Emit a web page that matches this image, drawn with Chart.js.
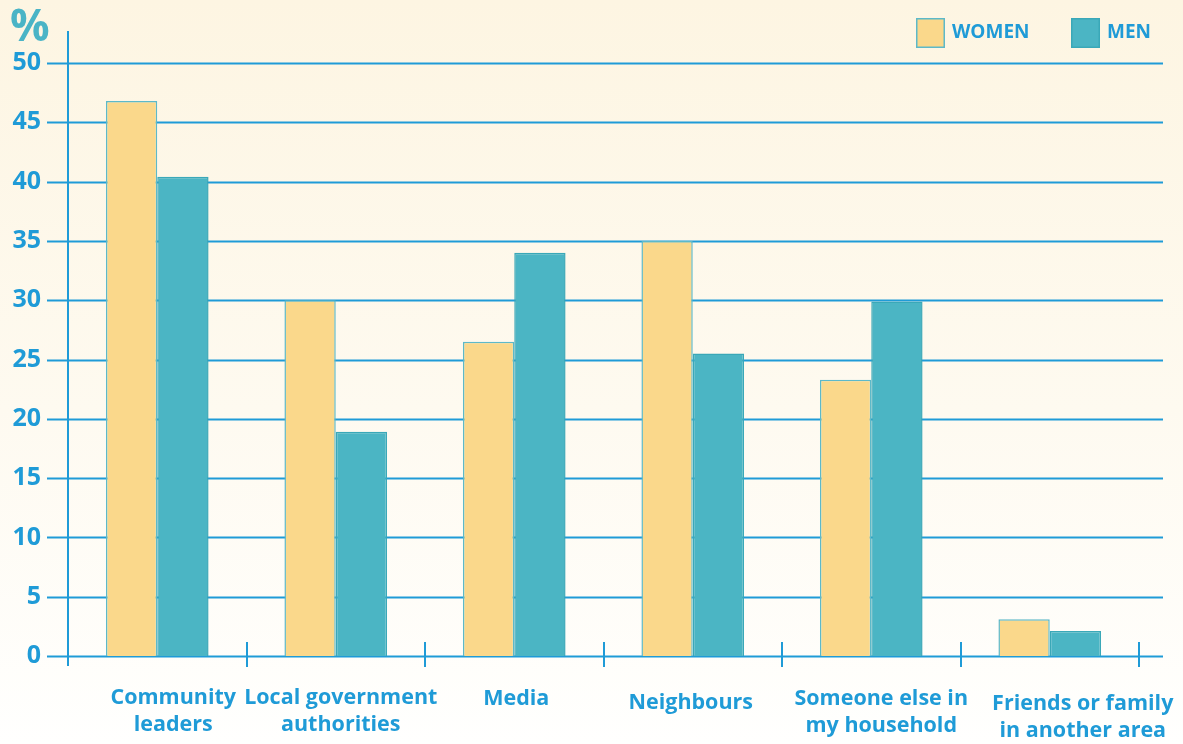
<!DOCTYPE html>
<html>
<head>
<meta charset="utf-8">
<script src="https://cdn.jsdelivr.net/npm/chart.js@4/dist/chart.umd.min.js"></script>
<style>
  html, body { margin: 0; padding: 0; background: #fffefb; }
  #wrap { width: 1183px; height: 744px; position: relative; }
</style>
</head>
<body>
<div id="wrap"><canvas id="c" width="1183" height="744"></canvas></div>
<script>
// Categories (multi-line labels) and the two series, in percent
const categories = [
  ['Community', 'leaders'],
  ['Local government', 'authorities'],
  ['Media'],
  ['Neighbours'],
  ['Someone else in', 'my household'],
  ['Friends or family', 'in another area']
];
const women = [46.8, 30.0, 26.5, 35.0, 23.3, 3.1];
const men   = [40.4, 18.9, 34.0, 25.5, 29.9, 2.1];
const seriesNames = ['WOMEN', 'MEN'];
const yTicks = [0, 5, 10, 15, 20, 25, 30, 35, 40, 45, 50];

const LINE = '#1f9bd7';
const FONT = '"Open Sans", "Noto Sans", sans-serif';
const womenFill = '#fad88b', womenBorder = '#5cb9c9';
const menFill = '#4bb5c4', menBorder = '#3aa8b8';

// Category captions sit a little off-centre under some groups
const captionShift = {
  dx: [16, 5, 2, -2, 10, 33],
  dy: [0, 0, 1, 5, 1, 6]
};

// Background wash, grid, axes, category ticks, captions, unit sign and legend
const decor = {
  id: 'decor',
  beforeDraw(chart) {
    const { ctx, width, height } = chart;
    const g = ctx.createLinearGradient(0, 0, 0, height);
    g.addColorStop(0, '#fdf5e2');
    g.addColorStop(0.55, '#fefaf0');
    g.addColorStop(1, '#fffffe');
    ctx.save();
    ctx.fillStyle = g;
    ctx.fillRect(0, 0, width, height);
    ctx.restore();
  },
  beforeDatasetsDraw(chart) {
    const { ctx, chartArea: a, scales: { x, y } } = chart;
    ctx.save();
    ctx.strokeStyle = LINE;
    ctx.lineWidth = 2;
    // horizontal grid lines, running past both ends of the plot
    yTicks.forEach(v => {
      const py = Math.round(y.getPixelForValue(v)) + 0.5;
      ctx.beginPath();
      ctx.moveTo(a.left - 21, py);
      ctx.lineTo(a.right + 24, py);
      ctx.stroke();
    });
    // vertical axis
    ctx.beginPath();
    ctx.moveTo(a.left, a.top - 32);
    ctx.lineTo(a.left, a.bottom + 10);
    ctx.stroke();
    // category separators on the baseline
    const step = x.getPixelForValue(1) - x.getPixelForValue(0);
    for (let i = 1; i <= categories.length; i++) {
      const px = Math.round(x.getPixelForValue(i) - step / 2);
      ctx.beginPath();
      ctx.moveTo(px, a.bottom - 14);
      ctx.lineTo(px, a.bottom + 11);
      ctx.stroke();
    }
    ctx.restore();
  },
  afterDraw(chart) {
    const { ctx, chartArea: a, scales: { x } } = chart;
    ctx.save();
    // category captions
    ctx.fillStyle = LINE;
    ctx.font = 'bold 21.5px ' + FONT;
    ctx.textAlign = 'center';
    ctx.textBaseline = 'alphabetic';
    categories.forEach((lines, i) => {
      const cx = x.getPixelForValue(i) + captionShift.dx[i];
      lines.forEach((t, k) => {
        ctx.fillText(t, cx, a.bottom + 48 + captionShift.dy[i] + k * 27);
      });
    });
    // unit sign above the value axis
    ctx.fillStyle = '#4ab4c6';
    ctx.font = 'bold 44px ' + FONT;
    ctx.textAlign = 'left';
    ctx.fillText('%', 10, 41);
    // legend
    const items = [
      { x: 916, fill: womenFill, border: womenBorder, label: seriesNames[0] },
      { x: 1071, fill: menFill, border: menBorder, label: seriesNames[1] }
    ];
    ctx.font = 'bold 19px ' + FONT;
    ctx.textBaseline = 'middle';
    items.forEach(it => {
      ctx.fillStyle = it.fill;
      ctx.fillRect(it.x, 18, 29, 30);
      ctx.strokeStyle = it.border;
      ctx.lineWidth = 1.5;
      ctx.strokeRect(it.x + 0.75, 18.75, 27.5, 28.5);
      ctx.fillStyle = LINE;
      ctx.fillText(it.label, it.x + 36, 33);
    });
    ctx.restore();
  }
};

new Chart(document.getElementById('c'), {
  type: 'bar',
  data: {
    labels: categories,
    datasets: [
      { label: seriesNames[0], data: women, backgroundColor: womenFill, borderColor: womenBorder, borderWidth: 1.5 },
      { label: seriesNames[1], data: men, backgroundColor: menFill, borderColor: menBorder, borderWidth: 1.5 }
    ]
  },
  options: {
    responsive: false,
    animation: false,
    layout: { padding: { top: 63, right: 44, left: 0, bottom: 0 } },
    datasets: { bar: { categoryPercentage: 0.575, barPercentage: 1.0 } },
    plugins: { legend: { display: false }, tooltip: { enabled: false } },
    scales: {
      x: {
        grid: { display: false, drawTicks: false },
        border: { display: false },
        ticks: { display: false },
        afterFit(s) { s.height = 88; }
      },
      y: {
        min: 0,
        max: 50,
        grid: { display: false, drawTicks: false },
        border: { display: false },
        ticks: {
          stepSize: 5,
          color: LINE,
          font: { family: FONT, size: 25, weight: 'bold' },
          padding: 27
        },
        afterFit(s) { s.width = 68; }
      }
    }
  },
  plugins: [decor]
});
</script>
</body>
</html>
